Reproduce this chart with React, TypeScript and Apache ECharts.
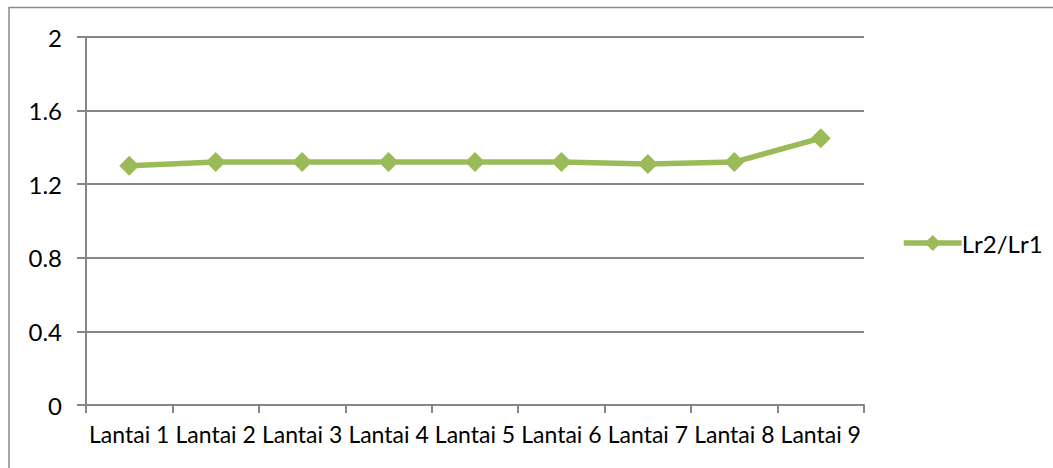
import React, { useEffect, useRef } from "react";
import * as echarts from "echarts";

const categories = ["Lantai 1", "Lantai 2", "Lantai 3", "Lantai 4", "Lantai 5", "Lantai 6", "Lantai 7", "Lantai 8", "Lantai 9"];
const seriesName = "Lr2/Lr1";
const values = [1.30, 1.32, 1.32, 1.32, 1.32, 1.32, 1.31, 1.32, 1.45];
const yTicks = { min: 0, max: 2, interval: 0.4 };

const FONT = "Lato, 'Open Sans', sans-serif";

export default function App() {
  const ref = useRef<HTMLDivElement>(null);
  useEffect(() => {
    if (!ref.current) return;
    const chart = echarts.init(ref.current, undefined, { renderer: "svg" });
    chart.setOption({
      animation: false,
      backgroundColor: "#ffffff",
      textStyle: { fontFamily: FONT },
      graphic: [
        {
          type: "rect",
          shape: { x: 9, y: 7.5, width: 1200, height: 600 },
          style: { fill: "none", stroke: "#8c8c8c", lineWidth: 1.5 },
          silent: true,
        },
      ],
      grid: { left: 86, right: 189, top: 37, bottom: 63 },
      legend: {
        orient: "vertical",
        left: 896,
        top: 226,
        itemWidth: 58,
        itemHeight: 20,
        itemGap: 4,
        lineStyle: { width: 5.5, color: "#9BBB59" },
        itemStyle: { color: "#9BBB59" },
        textStyle: { fontFamily: FONT, fontSize: 24, color: "#000", padding: [0, 0, 0, -5] },
        data: [seriesName],
      },
      xAxis: {
        type: "category",
        data: categories,
        boundaryGap: true,
        axisLine: { lineStyle: { color: "#868686", width: 2 } },
        axisTick: { show: true, alignWithLabel: false, length: 8, lineStyle: { color: "#868686", width: 2 } },
        axisLabel: { color: "#000", fontSize: 23, fontFamily: FONT, margin: 17, interval: 0 },
        splitLine: { show: false },
      },
      yAxis: {
        type: "value",
        min: yTicks.min,
        max: yTicks.max,
        interval: yTicks.interval,
        axisLine: { show: true, lineStyle: { color: "#868686", width: 2 } },
        axisTick: { show: true, inside: false, length: 9, lineStyle: { color: "#868686", width: 2 } },
        axisLabel: { color: "#000", fontSize: 24, fontFamily: FONT, margin: 24, formatter: (v: number) => String(Math.round(v * 10) / 10) },
        splitLine: { show: true, lineStyle: { color: "#868686", width: 2 } },
      },
      series: [
        {
          name: seriesName,
          type: "line",
          data: values,
          symbol: "diamond",
          symbolSize: 20,
          lineStyle: { color: "#9BBB59", width: 5.5 },
          itemStyle: { color: "#9BBB59" },
        },
      ],
    });
    return () => chart.dispose();
  }, []);
  return <div ref={ref} style={{ position: "absolute", left: 0, top: 0, width: 1053, height: 468 }} />;
}
